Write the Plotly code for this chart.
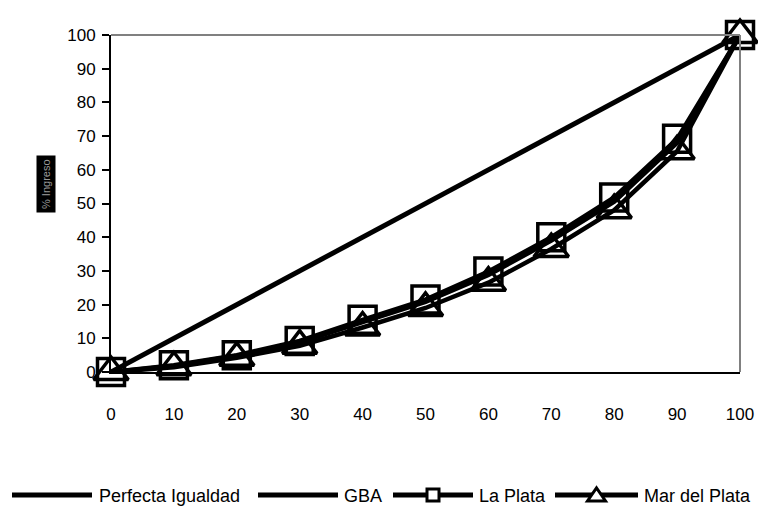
import plotly.graph_objects as go

x_pct = [0, 10, 20, 30, 40, 50, 60, 70, 80, 90, 100]
perfecta = [0, 10, 20, 30, 40, 50, 60, 70, 80, 90, 100]
gba = [0, 1.8, 4.8, 8.8, 14.8, 20.8, 28.8, 39.0, 50.5, 68.0, 100]
la_plata = [0, 2.0, 5.0, 9.2, 15.5, 21.5, 29.8, 40.0, 51.8, 69.2, 100]
mar_del_plata = [0, 1.4, 4.2, 7.8, 13.2, 19.0, 26.5, 36.5, 48.0, 65.5, 100]
x_ticks = [0, 10, 20, 30, 40, 50, 60, 70, 80, 90, 100]
y_ticks = [0, 10, 20, 30, 40, 50, 60, 70, 80, 90, 100]
legend_names = ["Perfecta Igualdad", "GBA", "La Plata", "Mar del Plata"]

W, H = 758, 510
L, R, T, B = 111, 740, 35, 372
FONT = "Liberation Sans, Arial, sans-serif"

def px(xp):
    return (xp - L) / (R - L)

def py(yp):
    return (B - yp) / (B - T)

fig = go.Figure()
fig.add_trace(go.Scatter(x=x_pct, y=perfecta, mode="lines", name=legend_names[0],
                         line=dict(color="black", width=5), cliponaxis=False))
fig.add_trace(go.Scatter(x=x_pct, y=gba, mode="lines", name=legend_names[1],
                         line=dict(color="black", width=4.5), cliponaxis=False))
fig.add_trace(go.Scatter(x=x_pct, y=la_plata, mode="lines+markers", name=legend_names[2],
                         line=dict(color="black", width=4.5),
                         marker=dict(symbol="square", size=27, color="rgba(0,0,0,0)",
                                     line=dict(color="black", width=3.5)),
                         cliponaxis=False))
fig.add_trace(go.Scatter(x=x_pct, y=mar_del_plata, mode="lines+markers", name=legend_names[3],
                         line=dict(color="black", width=4.5),
                         marker=dict(symbol="triangle-up", size=30, color="rgba(0,0,0,0)",
                                     line=dict(color="black", width=3.5)),
                         cliponaxis=False))

shapes = [
    dict(type="line", xref="paper", yref="paper", x0=0, x1=1, y0=1, y1=1,
         line=dict(color="#808080", width=2)),
    dict(type="line", xref="paper", yref="paper", x0=1, x1=1, y0=0, y1=1,
         line=dict(color="#808080", width=2)),
]
annotations = []

ly = 495
leg_items = [
    (12, 92, 97, None),
    (258, 338, 342, None),
    (393, 473, 477, "square"),
    (555, 638, 642, "triangle"),
]
for (l0, l1, tx, mk), name in zip(leg_items, legend_names):
    shapes.append(dict(type="line", xref="paper", yref="paper",
                       x0=px(l0), x1=px(l1), y0=py(ly), y1=py(ly),
                       line=dict(color="black", width=5)))
    cx = (l0 + l1) / 2
    if mk == "square":
        shapes.append(dict(type="rect", xref="paper", yref="paper",
                           x0=px(cx - 6), x1=px(cx + 6), y0=py(ly + 6), y1=py(ly - 6),
                           fillcolor="white", line=dict(color="black", width=3)))
    elif mk == "triangle":
        path = "M {} {} L {} {} L {} {} Z".format(px(cx - 9), py(ly + 6), px(cx + 9), py(ly + 6),
                                                 px(cx), py(ly - 7))
        shapes.append(dict(type="path", xref="paper", yref="paper", path=path,
                           fillcolor="white", line=dict(color="black", width=3)))
    annotations.append(dict(xref="paper", yref="paper", x=px(tx), y=py(ly + 1),
                            text=name, showarrow=False, xanchor="left", yanchor="middle",
                            font=dict(family=FONT, size=18, color="black")))

annotations.append(dict(xref="paper", yref="paper", x=px(36), y=py(184),
                        text="% Ingreso", showarrow=False, textangle=-90,
                        bgcolor="black", font=dict(family=FONT, size=11, color="#9a9a9a"),
                        borderpad=3))

fig.update_layout(
    width=W, height=H,
    margin=dict(l=L, r=W - R, t=T, b=H - B, autoexpand=False),
    paper_bgcolor="white", plot_bgcolor="white",
    showlegend=False,
    font=dict(family=FONT, size=17, color="black"),
    xaxis=dict(range=[0, 100], tickvals=x_ticks, ticktext=[str(v) for v in x_ticks],
               showgrid=False, zeroline=False, showline=True, linecolor="black", linewidth=2,
               ticks="", ticklabelstandoff=26, tickfont=dict(size=17), automargin=False),
    yaxis=dict(range=[0, 100], tickvals=y_ticks, ticktext=[str(v) for v in y_ticks],
               showgrid=False, zeroline=False, showline=True, linecolor="black", linewidth=2,
               ticks="outside", ticklen=7, tickwidth=2, tickcolor="black",
               ticklabelstandoff=3, tickfont=dict(size=17), automargin=False),
    shapes=shapes, annotations=annotations,
)

fig.write_html("out.html")
